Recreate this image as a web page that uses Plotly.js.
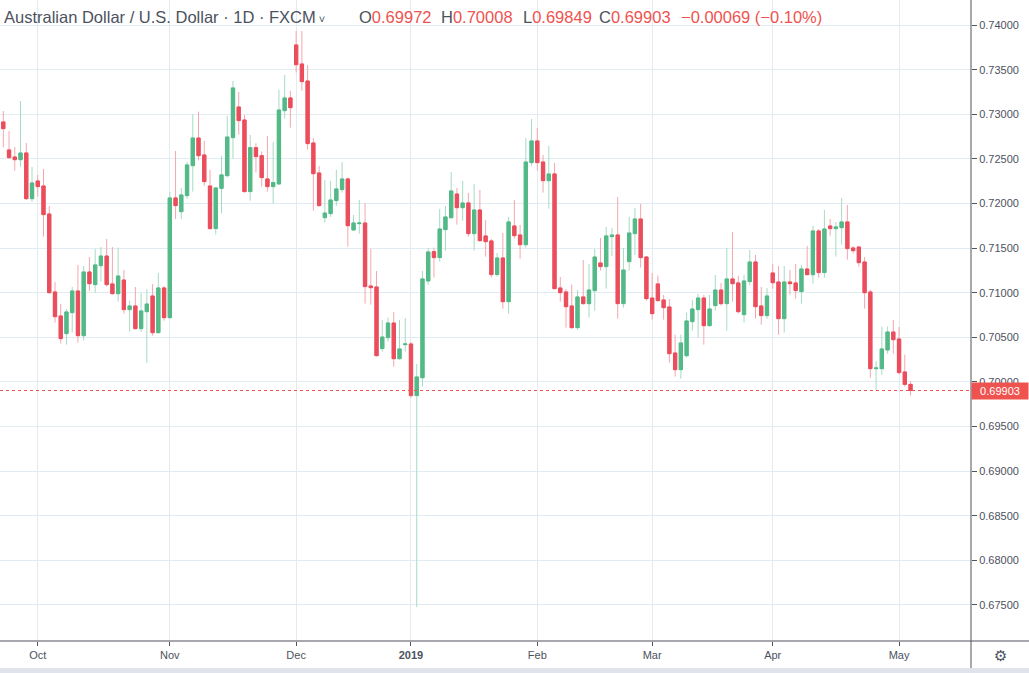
<!DOCTYPE html>
<html>
<head>
<meta charset="utf-8">
<script src="https://cdn.plot.ly/plotly-3.0.1.min.js"></script>
<style>
html,body{margin:0;padding:0;background:#fff;}
#chart{width:1029px;height:673px;}
</style>
</head>
<body>
<div id="chart"></div>
<script>
// Trading days (weekdays, FXCM: no bars on Dec 25 and Jan 1)
const dates = [
 "2018-09-21","2018-09-24","2018-09-25","2018-09-26","2018-09-27","2018-09-28",
 "2018-10-01","2018-10-02","2018-10-03","2018-10-04","2018-10-05","2018-10-08","2018-10-09","2018-10-10","2018-10-11","2018-10-12",
 "2018-10-15","2018-10-16","2018-10-17","2018-10-18","2018-10-19","2018-10-22","2018-10-23","2018-10-24","2018-10-25","2018-10-26",
 "2018-10-29","2018-10-30","2018-10-31",
 "2018-11-01","2018-11-02","2018-11-05","2018-11-06","2018-11-07","2018-11-08","2018-11-09","2018-11-12","2018-11-13","2018-11-14",
 "2018-11-15","2018-11-16","2018-11-19","2018-11-20","2018-11-21","2018-11-22","2018-11-23","2018-11-26","2018-11-27","2018-11-28",
 "2018-11-29","2018-11-30",
 "2018-12-03","2018-12-04","2018-12-05","2018-12-06","2018-12-07","2018-12-10","2018-12-11","2018-12-12","2018-12-13","2018-12-14",
 "2018-12-17","2018-12-18","2018-12-19","2018-12-20","2018-12-21","2018-12-24","2018-12-26","2018-12-27","2018-12-28","2018-12-31",
 "2019-01-02","2019-01-03","2019-01-04","2019-01-07","2019-01-08","2019-01-09","2019-01-10","2019-01-11","2019-01-14","2019-01-15",
 "2019-01-16","2019-01-17","2019-01-18","2019-01-21","2019-01-22","2019-01-23","2019-01-24","2019-01-25","2019-01-28","2019-01-29",
 "2019-01-30","2019-01-31",
 "2019-02-01","2019-02-04","2019-02-05","2019-02-06","2019-02-07","2019-02-08","2019-02-11","2019-02-12","2019-02-13","2019-02-14",
 "2019-02-15","2019-02-18","2019-02-19","2019-02-20","2019-02-21","2019-02-22","2019-02-25","2019-02-26","2019-02-27","2019-02-28",
 "2019-03-01","2019-03-04","2019-03-05","2019-03-06","2019-03-07","2019-03-08","2019-03-11","2019-03-12","2019-03-13","2019-03-14",
 "2019-03-15","2019-03-18","2019-03-19","2019-03-20","2019-03-21","2019-03-22","2019-03-25","2019-03-26","2019-03-27","2019-03-28",
 "2019-03-29",
 "2019-04-01","2019-04-02","2019-04-03","2019-04-04","2019-04-05","2019-04-08","2019-04-09","2019-04-10","2019-04-11","2019-04-12",
 "2019-04-15","2019-04-16","2019-04-17","2019-04-18","2019-04-19","2019-04-22","2019-04-23","2019-04-24","2019-04-25","2019-04-26",
 "2019-04-29","2019-04-30",
 "2019-05-01","2019-05-02","2019-05-03"
];

const open = [
 .72914,.72600,.72521,.72491,.72566,.72054,
 .72252,.72196,.71882,.71008,.70739,.70541,.70776,.71019,.70518,.71232,
 .71090,.71303,.71411,.71098,.70989,.71142,.70810,.70851,.70597,.70787,
 .70963,.70552,.71053,
 .70720,.72062,.71908,.72088,.72424,.72734,.72544,.72196,.71718,.72170,
 .72312,.72738,.73082,.72936,.72133,.72626,.72536,.72275,.72189,.72219,
 .73041,.73183,
 .73777,.73564,.73373,.72678,.72342,.71841,.71886,.72032,.72155,.72275,
 .71703,.71774,.71781,.71075,.71064,.70373,.70496,.70660,.70260,.70417,
 .70425,.69846,.70047,.71131,.71460,.71393,.71707,.71841,.72106,.71953,
 .72006,.71662,.71927,.71636,.71580,.71203,.71389,.70899,.71748,.71647,
 .71538,.72458,
 .72701,.72465,.72256,.72331,.71053,.71008,.70851,.70608,.70952,.70877,
 .71023,.71333,.71292,.71628,.71647,.70877,.71348,.71662,.71826,.71400,
 .70940,.71098,.70918,.70840,.70324,.70137,.70294,.70675,.70810,.70940,
 .70630,.70855,.71030,.70877,.71154,.71109,.70754,.71124,.71344,.70851,
 .70743,
 .71221,.71120,.70709,.71120,.71109,.71012,.71266,.71202,.71692,.71225,
 .71748,.71718,.71729,.71793,.71501,.71512,.71344,.71008,.70148,.70148,
 .70358,.70559,
 .70481,.70111,.69972
];

const high = [
 .73037,.72813,.72633,.73149,.72678,.72409,
 .72320,.72387,.71972,.71120,.70873,.70817,.71064,.71311,.71299,.71400,
 .71490,.71512,.71602,.71512,.71505,.71254,.70911,.71064,.70997,.71041,
 .71097,.71221,.71075,
 .72129,.72589,.72174,.72469,.73000,.73030,.72701,.72376,.72180,.72533,
 .72981,.73373,.73250,.72992,.72768,.72675,.72581,.72757,.72690,.73276,
 .73441,.73261,
 .73934,.73934,.73553,.72734,.72420,.72264,.72252,.72376,.72465,.72290,
 .71871,.72039,.72006,.71490,.71243,.70694,.70720,.70784,.70694,.70716,
 .70447,.70201,.71243,.71501,.71505,.71938,.71972,.72353,.72174,.72252,
 .72118,.72219,.72151,.71815,.71602,.71445,.71669,.71849,.72039,.71759,
 .72734,.72947,
 .72846,.72544,.72645,.72454,.71176,.71041,.71090,.71030,.71366,.71322,
 .71490,.71613,.71737,.71725,.72073,.71501,.71849,.71949,.71994,.71410,
 .71221,.71191,.70974,.70929,.70529,.70529,.70776,.70918,.70985,.70974,
 .70974,.71198,.71109,.71501,.71680,.71187,.71198,.71479,.71423,.71064,
 .71053,
 .71322,.71299,.71299,.71254,.71322,.71311,.71524,.71748,.71714,.71927,
 .71826,.71793,.72062,.71983,.71524,.71524,.71400,.71034,.70234,.70619,
 .70619,.70694,
 .70615,.70305,.70008
];

const low = [
 .72626,.72499,.72368,.72413,.72040,.72021,
 .72077,.71628,.70990,.70664,.70429,.70418,.70552,.70440,.70462,.71019,
 .71000,.71124,.71068,.70978,.70899,.70765,.70563,.70586,.70563,.70216,
 .70518,.70541,.70686,
 .70710,.71826,.71826,.72050,.72133,.72484,.72200,.71710,.71651,.71890,
 .72290,.72503,.72772,.72122,.72032,.72346,.72189,.72133,.71998,.72211,
 .72951,.72850,
 .73467,.73265,.72603,.71920,.71965,.71785,.71849,.71972,.72121,.71516,
 .71695,.71662,.70877,.70866,.70285,.70339,.70451,.70171,.70250,.70339,
 .69823,.67476,.69947,.71086,.71169,.71348,.71471,.71830,.71763,.71808,
 .71628,.71471,.71575,.71404,.71169,.71180,.70821,.70765,.71606,.71381,
 .71505,.72420,
 .72368,.72121,.71942,.71040,.70899,.70608,.70597,.70586,.70866,.70720,
 .70798,.71247,.71045,.71411,.70709,.70832,.71247,.71423,.71281,.70911,
 .70698,.70900,.70698,.70215,.70059,.70036,.70272,.70574,.70496,.70417,
 .70620,.70799,.70855,.70574,.70899,.70765,.70664,.71079,.70709,.70642,
 .70709,
 .71045,.70529,.70552,.70978,.70933,.70877,.71195,.71101,.71168,.71168,
 .71639,.71404,.71539,.71370,.71438,.71292,.70821,.70047,.69902,.70081,
 .70316,.70316,
 .70081,.69947,.69849
];

const close = [
 .72839,.72514,.72491,.72566,.72054,.72230,
 .72189,.71875,.71000,.70731,.70485,.70784,.71019,.70518,.71232,.71101,
 .71311,.71411,.71090,.70989,.71187,.70810,.70851,.70597,.70795,.70873,
 .70552,.71053,.70720,
 .72062,.71976,.72095,.72432,.72734,.72536,.72245,.71718,.72174,.72320,
 .72745,.73295,.72929,.72133,.72626,.72525,.72290,.72189,.72234,.73048,
 .73183,.73074,
 .73556,.73366,.72671,.72334,.71976,.71893,.72039,.72163,.72275,.71751,
 .71781,.71781,.71068,.71056,.70294,.70503,.70660,.70260,.70369,.70425,
 .69846,.70055,.71154,.71456,.71393,.71714,.71849,.72140,.71953,.72006,
 .71662,.71927,.71583,.71572,.71203,.71389,.70899,.71793,.71639,.71538,
 .72465,.72701,
 .72458,.72256,.72331,.71045,.71000,.70843,.70608,.70952,.70877,.71030,
 .71400,.71292,.71636,.71647,.70877,.71254,.71669,.71826,.71393,.70933,
 .70765,.70911,.70832,.70316,.70137,.70436,.70683,.70817,.70940,.70630,
 .70817,.71030,.70877,.71154,.71101,.70787,.71131,.71344,.70843,.70743,
 .70963,
 .71112,.70709,.71120,.71101,.71023,.71266,.71202,.71692,.71225,.71714,
 .71718,.71737,.71793,.71494,.71471,.71337,.71000,.70148,.70156,.70369,
 .70559,.70473,
 .70104,.69972,.69903
];

// Axis labels
const monthTickDates = ["2018-10-01","2018-11-01","2018-12-03","2019-01-02","2019-02-01","2019-03-01","2019-04-01","2019-05-01"];
const monthTickLabels = ["Oct","Nov","Dec","<b>2019</b>","Feb","Mar","Apr","May"];
const priceTicks = [0.675,0.68,0.685,0.69,0.695,0.70,0.705,0.71,0.715,0.72,0.725,0.73,0.735,0.74];
const seriesTitle = "Australian Dollar / U.S. Dollar · 1D · FXCM";

const GREEN = "#53b987", RED = "#eb4d5c";
const GREEN_W = "#a6dbc2", RED_W = "#f5a6ad";
const TXT = "#4c525e", VAL = "#ef5350";

const bodyHigh = open.map((o,i)=>Math.max(o, close[i]));
const bodyLow  = open.map((o,i)=>Math.min(o, close[i]));

const wicks = {
  type: "candlestick", x: dates, open: open, high: high, low: low, close: close,
  increasing: {line: {color: GREEN_W, width: 1}, fillcolor: GREEN_W},
  decreasing: {line: {color: RED_W, width: 1}, fillcolor: RED_W},
  whiskerwidth: 0, hoverinfo: "skip", showlegend: false
};
const bodies = {
  type: "candlestick", x: dates, open: open, high: bodyHigh, low: bodyLow, close: close,
  increasing: {line: {color: GREEN, width: 1}, fillcolor: GREEN},
  decreasing: {line: {color: RED, width: 1}, fillcolor: RED},
  whiskerwidth: 0, hoverinfo: "skip", showlegend: false
};

const n = close.length;
const lastO = open[n-1], lastH = high[n-1], lastL = low[n-1], lastC = close[n-1];
const chg = lastC - close[n-2];
const pct = chg / close[n-2] * 100;
const sign = chg < 0 ? "\u2212" : "+";

const W = 1029, H = 673, PW = 971, PH = 641;
const px = x => x / PW;
const py = y => (PH - y) / PH;

function ohlcAnn(letter, value, x) {
  return {xref: "paper", yref: "paper", x: px(x), y: py(17), xanchor: "left", yanchor: "middle",
    showarrow: false, text: letter + '<span style="color:' + VAL + '">' + value + '</span>',
    font: {family: "Liberation Sans, Arial, sans-serif", size: 16.5, color: TXT}};
}

const layout = {
  width: W, height: H,
  margin: {l: 0, r: W - PW, t: 0, b: H - PH, pad: 0},
  paper_bgcolor: "#ffffff", plot_bgcolor: "#ffffff",
  showlegend: false, boxgap: 0.18,
  xaxis: {
    type: "category", range: [-0.575, 168.53], autorange: false,
    tickmode: "array", tickvals: monthTickDates, ticktext: monthTickLabels,
    showgrid: true, gridcolor: "#e1ecf2", gridwidth: 1,
    ticks: "outside", ticklen: 4, tickcolor: "#50535e",
    showline: false, zeroline: false,
    tickfont: {family: "Liberation Sans, Arial, sans-serif", size: 11, color: TXT},
    rangeslider: {visible: false}, fixedrange: true
  },
  yaxis: {
    side: "right", range: [0.67095, 0.74281], autorange: false,
    tickmode: "array", tickvals: priceTicks, tickformat: ".5f",
    showgrid: true, gridcolor: "#e1ecf2", gridwidth: 1,
    ticks: "outside", ticklen: 5, tickcolor: "#50535e",
    showline: false, zeroline: false,
    tickfont: {family: "Liberation Sans, Arial, sans-serif", size: 11, color: TXT},
    fixedrange: true
  },
  shapes: [
    {type: "line", xref: "paper", yref: "y", x0: 0, x1: 1, y0: lastC, y1: lastC,
     line: {color: VAL, width: 1, dash: "dot"}},
    {type: "line", xref: "paper", yref: "paper", x0: 0, x1: W / PW, y0: 0, y1: 0,
     line: {color: "#50535e", width: 1}},
    {type: "line", xref: "paper", yref: "paper", x0: 1, x1: 1, y0: py(H), y1: 1,
     line: {color: "#50535e", width: 1}},
    {type: "rect", xref: "paper", yref: "paper", x0: 0, x1: W / PW, y0: py(668), y1: py(H + 2),
     fillcolor: "#e0e3eb", line: {width: 0}}
  ],
  annotations: [
    {xref: "paper", yref: "paper", x: px(2), y: py(17), xanchor: "left", yanchor: "middle",
     showarrow: false, text: seriesTitle + '<span style="font-size:11px"> \u02C5</span>',
     font: {family: "Liberation Sans, Arial, sans-serif", size: 16.5, color: TXT}},
    ohlcAnn("O", lastO.toFixed(5), 357),
    ohlcAnn("H", lastH.toFixed(5), 439),
    ohlcAnn("L", lastL.toFixed(5), 521),
    ohlcAnn("C", lastC.toFixed(5), 597),
    {xref: "paper", yref: "paper", x: px(679), y: py(17), xanchor: "left", yanchor: "middle",
     showarrow: false, text: sign + Math.abs(chg).toFixed(5) + " (" + sign + Math.abs(pct).toFixed(2) + "%)",
     font: {family: "Liberation Sans, Arial, sans-serif", size: 16.5, color: VAL}},
    {xref: "paper", yref: "y", x: 1, y: lastC, xanchor: "left", yanchor: "middle",
     showarrow: false, text: lastC.toFixed(5), bgcolor: VAL, width: 54, height: 14, borderpad: 1,
     align: "center", font: {family: "Liberation Sans, Arial, sans-serif", size: 11, color: "#ffffff"}},
    {xref: "paper", yref: "paper", x: px(1000), y: py(656), xanchor: "center", yanchor: "middle",
     showarrow: false, text: "\u2699", font: {family: "DejaVu Sans, sans-serif", size: 15, color: "#4c525e"}}
  ]
};

Plotly.newPlot("chart", [wicks, bodies], layout, {displayModeBar: false, staticPlot: true});
</script>
</body>
</html>
